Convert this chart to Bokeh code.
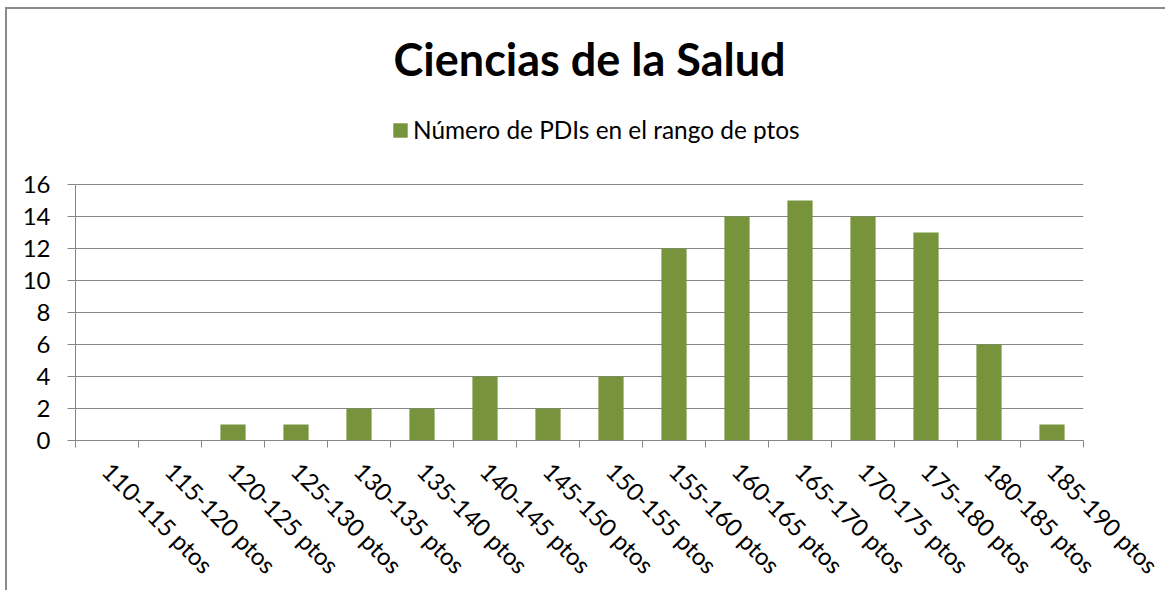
from bokeh.plotting import figure
from bokeh.models import Range1d, FixedTicker, Legend, LegendItem, ColumnDataSource, Label
from bokeh.embed import file_html
from bokeh.resources import INLINE

categories = ["110-115 ptos", "115-120 ptos", "120-125 ptos", "125-130 ptos",
              "130-135 ptos", "135-140 ptos", "140-145 ptos", "145-150 ptos",
              "150-155 ptos", "155-160 ptos", "160-165 ptos", "165-170 ptos",
              "170-175 ptos", "175-180 ptos", "180-185 ptos", "185-190 ptos"]
values = [0, 0, 1, 1, 2, 2, 4, 2, 4, 12, 14, 15, 14, 13, 6, 1]
y_ticks = [0, 2, 4, 6, 8, 10, 12, 14, 16]
title_text = "Ciencias de la Salud"
series_name = "Número de PDIs en el rango de ptos"

GREEN = "#77933C"
GRAY = "#868686"
FONT = "Lato"

n = len(categories)
centers = [i + 0.5 for i in range(n)]
bounds = list(range(n + 1))
y_max = y_ticks[-1]
# extra room above the value axis (in value units, 16 px per unit) for title + legend
y_top = y_max + 175 / 16

p = figure(width=1160, height=583, x_range=Range1d(0, n), y_range=Range1d(0, y_top),
           output_backend="svg", toolbar_location=None, title=None,
           min_border_left=68, min_border_right=84, min_border_top=0, min_border_bottom=152)
p.styles = {"margin-left": "5px", "margin-top": "7px",
            "border-top": "2px solid #8a8a8a", "border-left": "2px solid #8a8a8a"}
p.outline_line_color = None
p.background_fill_color = "white"
p.border_fill_color = "white"

src = ColumnDataSource(dict(x=centers, top=values))
r = p.vbar(x="x", top="top", width=0.4, source=src, fill_color=GREEN, line_color=None)

# axes
p.xaxis.ticker = FixedTicker(ticks=centers, minor_ticks=bounds)
p.xaxis.major_label_overrides = {c: lab for c, lab in zip(centers, categories)}
p.xaxis.major_tick_line_color = None
p.xaxis.minor_tick_line_color = GRAY
p.xaxis.minor_tick_out = 7
p.xaxis.minor_tick_in = 0
p.xaxis.axis_line_color = GRAY
p.xaxis.major_label_orientation = -0.7853981634
p.xaxis.major_label_text_font = FONT
p.xaxis.major_label_text_font_size = "24px"
p.xaxis.major_label_text_color = "black"
p.xaxis.major_label_standoff = 19

p.yaxis.ticker = FixedTicker(ticks=y_ticks)
p.yaxis.bounds = (0, y_max)
p.yaxis.major_tick_line_color = GRAY
p.yaxis.major_tick_out = 8
p.yaxis.major_tick_in = 0
p.yaxis.minor_tick_line_color = None
p.yaxis.axis_line_color = GRAY
p.yaxis.major_label_text_font = FONT
p.yaxis.major_label_text_font_size = "24px"
p.yaxis.major_label_text_color = "black"
p.yaxis.major_label_standoff = 17

p.xgrid.grid_line_color = None
p.ygrid.ticker = FixedTicker(ticks=y_ticks)
p.ygrid.grid_line_color = GRAY
p.ygrid.grid_line_width = 1

title = Label(x=8.16, y=23.85, text=title_text, text_font=FONT, text_font_style="bold",
              text_font_size="45px", text_align="center", text_baseline="alphabetic",
              text_color="black")
p.add_layout(title)

legend = Legend(items=[LegendItem(label=series_name, renderers=[r])], location=(316, 296),
                glyph_width=18, glyph_height=18, label_standoff=4, padding=0, margin=0,
                border_line_color=None, background_fill_alpha=0,
                label_text_font=FONT, label_text_font_size="24.4px", label_text_color="black")
p.add_layout(legend)

open("out.html", "w").write(file_html(p, INLINE))
